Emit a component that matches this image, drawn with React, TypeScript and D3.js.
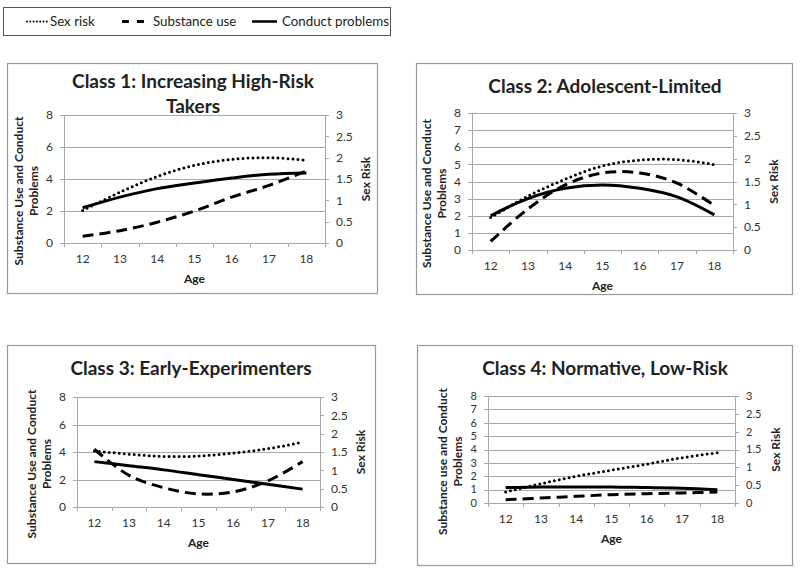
import React from 'react';
import * as d3 from 'd3';

const ages = [12, 13, 14, 15, 16, 17, 18];
const rightTicks = [0, 0.5, 1, 1.5, 2, 2.5, 3];
const leftTicksEven = [0, 2, 4, 6, 8];
const leftTicksAll = [0, 1, 2, 3, 4, 5, 6, 7, 8];

const legendLabels = ['Sex risk', 'Substance use', 'Conduct problems'];

const class1Titles = ['Class 1: Increasing High-Risk', 'Takers'];
const class2Titles = ['Class 2: Adolescent-Limited'];
const class3Titles = ['Class 3: Early-Experimenters'];
const class4Titles = ['Class 4: Normative, Low-Risk'];

const yTitleUpper = ['Substance Use and Conduct', 'Problems'];
const yTitleLower = ['Substance use and Conduct', 'Problems'];

// Sex risk on right axis (0-3); substance use and conduct problems on left axis (0-8)
const class1Sex = [0.76, 1.19, 1.56, 1.82, 1.96, 2.0, 1.94];
const class1Sub = [0.42, 0.77, 1.3, 2.0, 2.87, 3.6, 4.5];
const class1Con = [2.2, 2.87, 3.4, 3.75, 4.06, 4.3, 4.38];

const class2Sex = [0.71, 1.18, 1.55, 1.84, 1.97, 1.98, 1.87];
const class2Sub = [0.5, 2.4, 3.8, 4.5, 4.5, 3.9, 2.6];
const class2Con = [2.0, 3.0, 3.6, 3.8, 3.6, 3.1, 2.05];

const class3Sex = [1.53, 1.44, 1.38, 1.39, 1.47, 1.59, 1.77];
const class3Sub = [4.2, 2.3, 1.4, 0.95, 1.1, 1.9, 3.3];
const class3Con = [3.3, 3.0, 2.7, 2.35, 2.0, 1.65, 1.3];

const class4Sex = [0.31, 0.54, 0.75, 0.92, 1.09, 1.27, 1.41];
const class4Sub = [0.25, 0.37, 0.5, 0.62, 0.7, 0.75, 0.82];
const class4Con = [1.15, 1.2, 1.2, 1.2, 1.15, 1.1, 1.0];

const FONT = 'Lato, "Open Sans", sans-serif';
const GRID = '#a9a9a9';
const TXT = '#333';

type PanelCfg = {
  box: [number, number, number, number];
  l: number; r: number; t: number; b: number;
  titles: string[]; titleX: number; titleY: number[];
  leftTicks: number[]; yTitle: string[]; tickFont: number;
  sex: number[]; sub: number[]; con: number[];
};

const panels: PanelCfg[] = [
  { box: [7, 63, 370, 230], l: 64, r: 325, t: 115, b: 243, titles: class1Titles, titleX: 193, titleY: [88, 113],
    leftTicks: leftTicksEven, yTitle: yTitleUpper, tickFont: 12, sex: class1Sex, sub: class1Sub, con: class1Con },
  { box: [416, 63, 376, 231], l: 472, r: 733, t: 113, b: 250, titles: class2Titles, titleX: 605, titleY: [93],
    leftTicks: leftTicksAll, yTitle: yTitleUpper, tickFont: 12, sex: class2Sex, sub: class2Sub, con: class2Con },
  { box: [7, 345, 368, 218], l: 77, r: 320, t: 397, b: 507, titles: class3Titles, titleX: 191, titleY: [375],
    leftTicks: leftTicksEven, yTitle: yTitleUpper, tickFont: 12, sex: class3Sex, sub: class3Sub, con: class3Con },
  { box: [417, 345, 375, 220], l: 488, r: 735, t: 396, b: 503, titles: class4Titles, titleX: 605, titleY: [375],
    leftTicks: leftTicksAll, yTitle: yTitleLower, tickFont: 11, sex: class4Sex, sub: class4Sub, con: class4Con },
];

function Panel({ p }: { p: PanelCfg }) {
  const x = d3.scaleBand<number>().domain(ages).range([p.l, p.r]).padding(0);
  const cx = (a: number) => (x(a) as number) + x.bandwidth() / 2;
  const yL = d3.scaleLinear().domain([0, 8]).range([p.b, p.t]);
  const yR = d3.scaleLinear().domain([0, 3]).range([p.b, p.t]);
  const mk = (scale: d3.ScaleLinear<number, number>, vals: number[]) =>
    d3.line<number>().x((_, i) => cx(ages[i])).y((d) => scale(d)).curve(d3.curveCatmullRom.alpha(0.5))(vals) || '';
  const boundaries = [...ages.map((a) => x(a) as number), p.r];
  const midY = (p.t + p.b) / 2;
  return (
    <g>
      <rect x={p.box[0] + 0.5} y={p.box[1] + 0.5} width={p.box[2]} height={p.box[3]} fill="#fff" stroke="#9a9a9a" strokeWidth={1.2} />
      {p.titles.map((t, i) => (
        <text key={t} x={p.titleX} y={p.titleY[i]} textAnchor="middle" fontFamily={FONT} fontWeight="bold" fontSize={19} fill="#222">{t}</text>
      ))}
      {p.leftTicks.filter((v) => v > 0).map((v) => (
        <line key={'g' + v} x1={p.l} x2={p.r} y1={Math.round(yL(v)) + 0.5} y2={Math.round(yL(v)) + 0.5} stroke={GRID} strokeWidth={1} />
      ))}
      <line x1={p.l + 0.5} x2={p.l + 0.5} y1={p.t} y2={p.b} stroke={GRID} />
      <line x1={p.r + 0.5} x2={p.r + 0.5} y1={p.t} y2={p.b} stroke={GRID} />
      <line x1={p.l} x2={p.r} y1={Math.round(p.b) + 0.5} y2={Math.round(p.b) + 0.5} stroke={GRID} />
      {p.leftTicks.map((v) => (
        <g key={'lt' + v}>
          <line x1={p.l - 4} x2={p.l} y1={Math.round(yL(v)) + 0.5} y2={Math.round(yL(v)) + 0.5} stroke={GRID} />
          <text x={p.l - 11} y={yL(v)} dy="0.35em" textAnchor="end" fontFamily={FONT} fontSize={p.tickFont} fill={TXT}>{v}</text>
        </g>
      ))}
      {rightTicks.map((v) => (
        <g key={'rt' + v}>
          <line x1={p.r} x2={p.r + 4} y1={Math.round(yR(v)) + 0.5} y2={Math.round(yR(v)) + 0.5} stroke={GRID} />
          <text x={p.r + 11} y={yR(v)} dy="0.35em" textAnchor="start" fontFamily={FONT} fontSize={p.tickFont} fill={TXT}>{String(v)}</text>
        </g>
      ))}
      {boundaries.map((bx, i) => (
        <line key={'xt' + i} x1={Math.round(bx) + 0.5} x2={Math.round(bx) + 0.5} y1={p.b} y2={p.b + 4} stroke={GRID} />
      ))}
      {ages.map((a) => (
        <text key={'xl' + a} x={cx(a)} y={p.b + 20} textAnchor="middle" fontFamily={FONT} fontSize={12} fill={TXT}>{a}</text>
      ))}
      <text x={(p.l + p.r) / 2} y={p.b + 40} textAnchor="middle" fontFamily={FONT} fontWeight="bold" fontSize={12} fill="#222">Age</text>
      <text transform={`translate(${p.l - 41},${midY + 12}) rotate(-90)`} textAnchor="middle" fontFamily={FONT} fontWeight="bold" fontSize={12} fill="#222">{p.yTitle[0]}</text>
      <text transform={`translate(${p.l - 26},${midY + 12}) rotate(-90)`} textAnchor="middle" fontFamily={FONT} fontWeight="bold" fontSize={12} fill="#222">{p.yTitle[1]}</text>
      <text transform={`translate(${p.r + 45},${midY}) rotate(-90)`} textAnchor="middle" fontFamily={FONT} fontWeight="bold" fontSize={12} fill="#222">Sex Risk</text>
      <path d={mk(yR, p.sex)} fill="none" stroke="#000" strokeWidth={3} strokeDasharray="0,5" strokeLinecap="round" />
      <path d={mk(yL, p.sub)} fill="none" stroke="#000" strokeWidth={3} strokeDasharray="11,6" />
      <path d={mk(yL, p.con)} fill="none" stroke="#000" strokeWidth={3} />
    </g>
  );
}

export default function App() {
  return (
    <svg width={800} height={572} style={{ position: 'absolute', left: 0, top: 0, background: '#fff' }}>
      <rect x={0} y={0} width={800} height={572} fill="#fff" />
      <rect x={3.5} y={7.5} width={387} height={28} fill="#fff" stroke="#555" strokeWidth={1} />
      <line x1={27} x2={48} y1={21.5} y2={21.5} stroke="#000" strokeWidth={2} strokeDasharray="0,3.3" strokeLinecap="round" />
      <text x={50} y={26} fontFamily={FONT} fontSize={13.3} fill="#222">{legendLabels[0]}</text>
      <line x1={122} x2={144} y1={21.5} y2={21.5} stroke="#000" strokeWidth={3} strokeDasharray="7,8" />
      <text x={153} y={26} fontFamily={FONT} fontSize={13.3} fill="#222">{legendLabels[1]}</text>
      <line x1={252} x2={277} y1={21.5} y2={21.5} stroke="#000" strokeWidth={2.5} />
      <text x={282} y={26} fontFamily={FONT} fontSize={13.3} fill="#222">{legendLabels[2]}</text>
      {panels.map((p, i) => <Panel key={i} p={p} />)}
    </svg>
  );
}
